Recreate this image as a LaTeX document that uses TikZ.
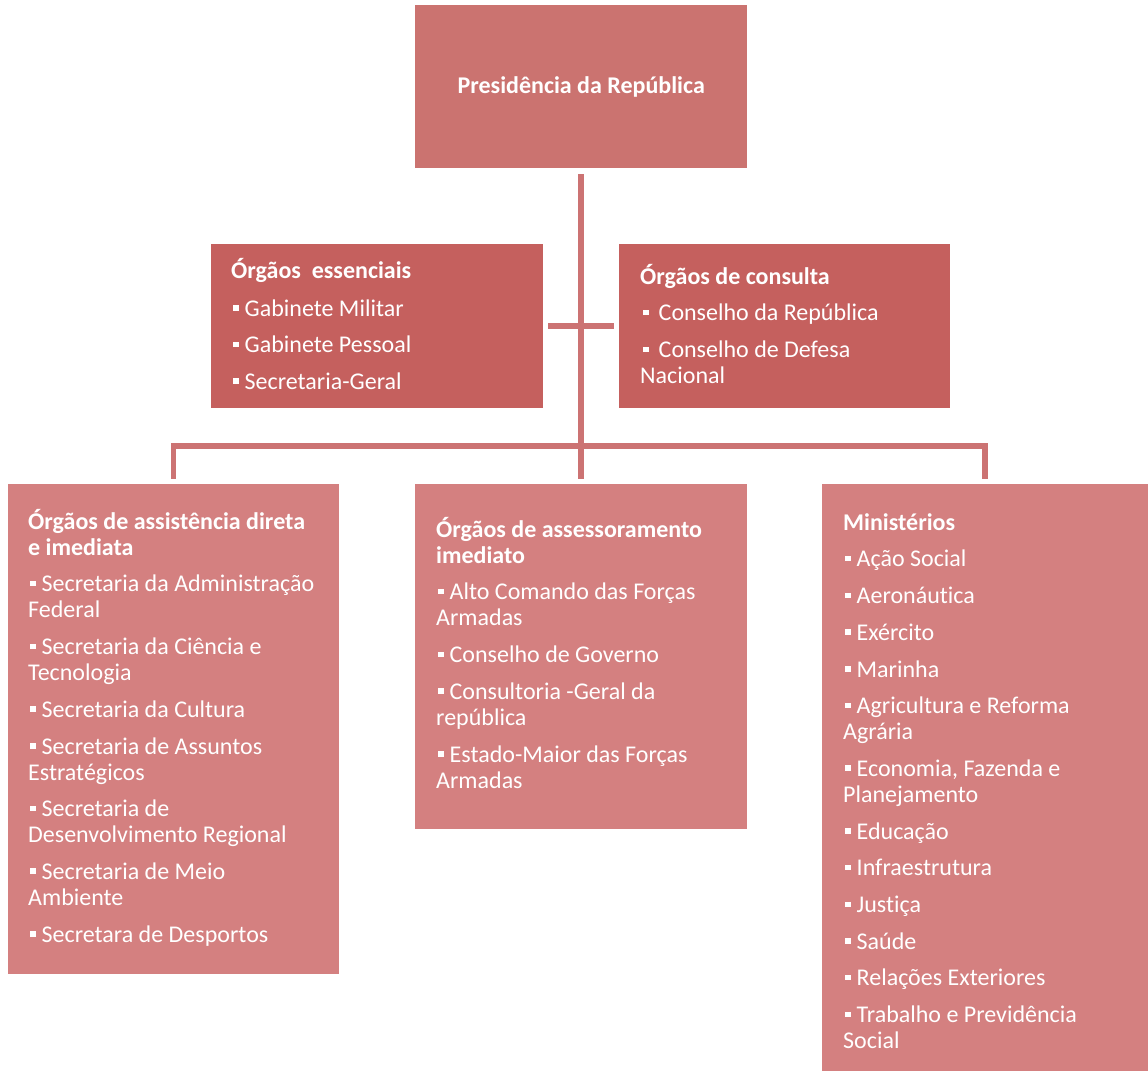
\documentclass[tikz,border=0pt]{standalone}
\usepackage{fontspec}
\setmainfont{Carlito}[Ligatures=NoCommon]
\definecolor{prescol}{HTML}{CB7370}
\definecolor{midcol}{HTML}{C5605E}
\definecolor{botcol}{HTML}{D48080}
\definecolor{linecol}{HTML}{CC7373}
\newcommand\bul{\hspace{2pt}\textcolor{white}{\rule[5.5pt]{5.5pt}{5.5pt}}\hspace{6pt}}
\newcommand\bulw{\hspace{3pt}\textcolor{white}{\rule[5.5pt]{5.5pt}{5.5pt}}\hspace{10pt}}
\newcommand\st{\rule{0pt}{24pt}}
\tikzset{
  box/.style={fill=#1, draw=none, inner sep=0pt, anchor=north west},
  txt/.style={text=white, inner sep=0pt, anchor=north west, align=left,
    font=\fontsize{24}{26}\selectfont},
  conn/.style={draw=linecol, line width=5.5pt}
}
\begin{document}
\begin{tikzpicture}[x=1pt,y=-1pt]
\useasboundingbox (0,0) rectangle (1148,1071);
% boxes
\node[box=prescol, minimum width=332pt, minimum height=163pt, text=white,
  font=\fontsize{24}{26}\selectfont\bfseries] (pres) at (415,5) {Presidência da República};
\node[box=midcol, minimum width=332pt, minimum height=164pt] (ess) at (211,244) {};
\node[box=midcol, minimum width=331pt, minimum height=164pt] (cons) at (619,244) {};
\node[box=botcol, minimum width=331pt, minimum height=490pt] (bl) at (8,484) {};
\node[box=botcol, minimum width=332pt, minimum height=345pt] (bm) at (415,484) {};
\node[box=botcol, minimum width=326pt, minimum height=587pt] (br) at (822,484) {};
% texts
\node[txt] (esst) at (231,254) {\st\textbf{Órgãos~~essenciais}\\[12pt]
\bul Gabinete Militar\\[10.5pt]
\bul Gabinete Pessoal\\[10.5pt]
\bul Secretaria-Geral};
\node[txt] (const) at (640,260) {\st\textbf{Órgãos de consulta}\\[10.7pt]
\bulw Conselho da República\\[10.7pt]
\bulw Conselho de Defesa\\
Nacional};
\node[txt] (blt) at (28,505) {\st\textbf{Órgãos de assistência direta}\\
\textbf{e imediata}\\[10.7pt]
\bul Secretaria da Administração\\
Federal\\[10.7pt]
\bul Secretaria da Ciência e\\
Tecnologia\\[10.7pt]
\bul Secretaria da Cultura\\[10.7pt]
\bul Secretaria de Assuntos\\
Estratégicos\\[10.7pt]
\bul Secretaria de\\
Desenvolvimento Regional\\[10.7pt]
\bul Secretaria de Meio\\
Ambiente\\[10.7pt]
\bul Secretara de Desportos};
\node[txt] (bmt) at (436,513) {\st\textbf{Órgãos de assessoramento}\\
\textbf{imediato}\\[10.7pt]
\bul Alto Comando das Forças\\
Armadas\\[10.7pt]
\bul Conselho de Governo\\[10.7pt]
\bul Consultoria -Geral da\\
república\\[10.7pt]
\bul Estado-Maior das Forças\\
Armadas};
\node[txt] (brt) at (843,506) {\st\textbf{Ministérios}\\[10.7pt]
\bul Ação Social\\[10.7pt]
\bul Aeronáutica\\[10.7pt]
\bul Exército\\[10.7pt]
\bul Marinha\\[10.7pt]
\bul Agricultura e Reforma\\
Agrária\\[10.7pt]
\bul Economia, Fazenda e\\
Planejamento\\[10.7pt]
\bul Educação\\[10.7pt]
\bul Infraestrutura\\[10.7pt]
\bul Justiça\\[10.7pt]
\bul Saúde\\[10.7pt]
\bul Relações Exteriores\\[10.7pt]
\bul Trabalho e Previdência\\
Social};
% connectors
\coordinate (bus) at (581,446);
\draw[conn] ([yshift=-6pt]pres.south) -- ([yshift=5.5pt]bm.north);
\draw[conn] ([xshift=5pt]ess.east) -- ([xshift=-5pt]cons.west);
\draw[conn] ([yshift=5.5pt]bl.north) |- (bus) -| ([yshift=5.5pt]br.north);
\end{tikzpicture}
\end{document}
